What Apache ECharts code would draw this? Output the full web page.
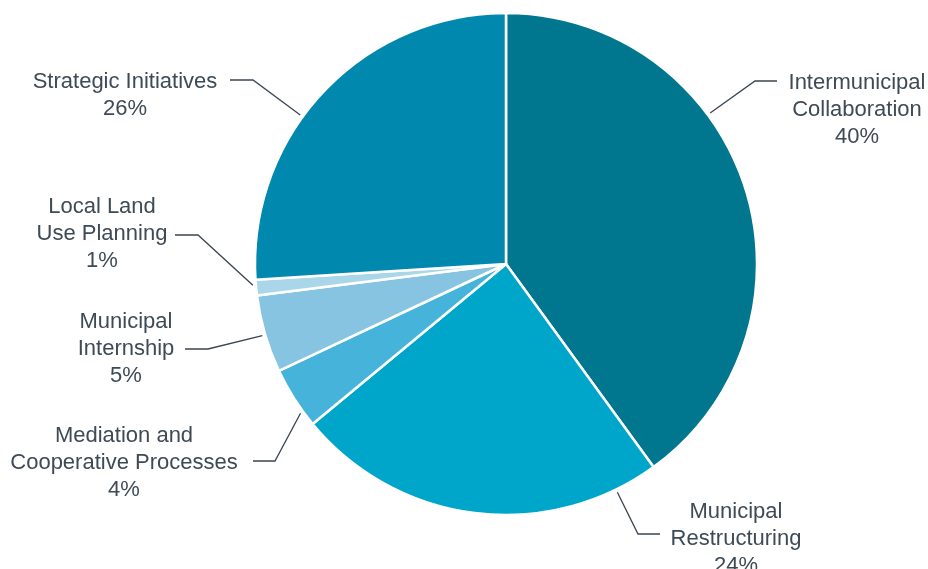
<!DOCTYPE html>
<html>
<head>
<meta charset="utf-8">
<script src="https://cdn.jsdelivr.net/npm/echarts@6/dist/echarts.min.js"></script>
<style>
  html, body { margin: 0; padding: 0; background: #ffffff; }
  #chart { width: 928px; height: 569px; }
</style>
</head>
<body>
<div id="chart"></div>
<script>
// Program share by category (percent), clockwise from 12 o'clock
const categories = [
  'Intermunicipal\nCollaboration',
  'Municipal\nRestructuring',
  'Mediation and\nCooperative Processes',
  'Municipal\nInternship',
  'Local Land\nUse Planning',
  'Strategic Initiatives'
];
const shares = [40, 24, 4, 5, 1, 26];
const colors = ['#00768f', '#00a5ca', '#45b3da', '#86c4e1', '#a9d6e9', '#0088ae'];

// Pie geometry (pixels)
const CX = 506, CY = 264, R = 251;

// Label placement: text block centre/top, leader start angle (deg clockwise from top),
// leader elbow x, leader end x and the y of the horizontal leader segment
const labelPlacement = [
  { x: 857, y: 69,  angle: 53.5,  elbowX: 755, endX: 777, lineY: 81 },
  { x: 736, y: 498, angle: 154.0, elbowX: 638, endX: 660, lineY: 534 },
  { x: 124, y: 422, angle: 234.0, elbowX: 275, endX: 253, lineY: 461 },
  { x: 126, y: 308, angle: 253.6, elbowX: 208, endX: 185, lineY: 349 },
  { x: 102, y: 193, angle: 265.2, elbowX: 198, endX: 175, lineY: 235 },
  { x: 125, y: 68,  angle: 305.9, elbowX: 253, endX: 230, lineY: 80 }
];

const chart = echarts.init(document.getElementById('chart'), null, { renderer: 'canvas' });

const option = {
  animation: false,
  backgroundColor: '#ffffff',
  series: [{
    type: 'pie',
    center: [CX, CY],
    radius: [0, R],
    startAngle: 90,
    clockwise: true,
    avoidLabelOverlap: false,
    silent: true,
    itemStyle: { borderColor: '#ffffff', borderWidth: 2.5 },
    label: {
      show: true,
      position: 'outside',
      fontFamily: '"Liberation Sans", Arial, sans-serif',
      fontSize: 22,
      lineHeight: 27,
      color: '#3e4a55',
      align: 'center',
      formatter: p => p.name + '\n' + p.value + '%'
    },
    labelLine: {
      show: true,
      lineStyle: { color: '#3a4651', width: 1.3 }
    },
    labelLayout: params => {
      const L = labelPlacement[params.dataIndex];
      const a = L.angle * Math.PI / 180;
      const rs = R + 3;
      const sx = CX + rs * Math.sin(a);
      const sy = CY - rs * Math.cos(a);
      return {
        x: L.x,
        y: L.y,
        align: 'center',
        verticalAlign: 'top',
        labelLinePoints: [[sx, sy], [L.elbowX, L.lineY], [L.endX, L.lineY]]
      };
    },
    data: categories.map((name, i) => ({
      name: name,
      value: shares[i],
      itemStyle: { color: colors[i] }
    }))
  }]
};

chart.setOption(option);
</script>
</body>
</html>
